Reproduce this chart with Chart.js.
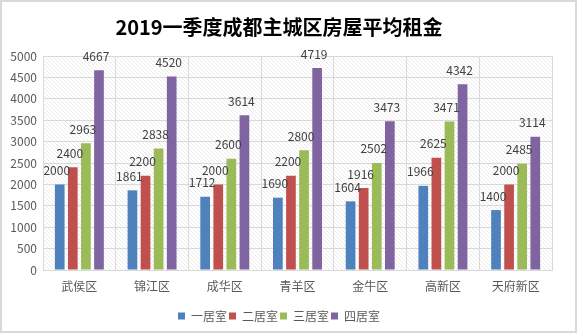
<!DOCTYPE html>
<html><head><meta charset="utf-8">
<script src="https://cdn.jsdelivr.net/npm/chart.js@4/dist/chart.umd.min.js"></script>
<style>html,body{margin:0;padding:0;background:#fff}#wrap{width:577px;height:333px;position:relative}</style>
</head><body><div id="wrap"><canvas id="c" width="577" height="333"></canvas></div>
<script>
const categories = ["武侯区","锦江区","成华区","青羊区","金牛区","高新区","天府新区"];
const seriesNames = ["一居室","二居室","三居室","四居室"];
const oneRoom = [2000,1861,1712,1690,1604,1966,1400];
const twoRoom = [2400,2200,2000,2200,1916,2625,2000];
const threeRoom = [2963,2838,2600,2800,2502,3471,2485];
const fourRoom = [4667,4520,3614,4719,3473,4342,3114];
const yTicks = [0,500,1000,1500,2000,2500,3000,3500,4000,4500,5000];
const colors = ["#4F81BD","#C0504D","#9BBB59","#8064A2"];
const FONT = "'Noto Sans CJK SC', 'Noto Sans', sans-serif";

function hatch(){
  const p = document.createElement('canvas'); p.width = 4; p.height = 4;
  const g = p.getContext('2d');
  g.fillStyle = '#fff'; g.fillRect(0,0,4,4);
  g.strokeStyle = '#e2e2e2'; g.lineWidth = 0.7;
  g.beginPath(); g.moveTo(0,0); g.lineTo(4,4); g.moveTo(-1,3); g.lineTo(1,5); g.moveTo(3,-1); g.lineTo(5,1); g.stroke();
  return p;
}
const bgPlugin = {
  id:'bg',
  beforeDraw(chart){
    const ctx = chart.ctx, a = chart.chartArea;
    ctx.save();
    ctx.fillStyle = '#fff'; ctx.fillRect(0,0,chart.width,chart.height);
    ctx.fillStyle = ctx.createPattern(hatch(),'repeat');
    ctx.fillRect(a.left,a.top,a.right-a.left,a.bottom-a.top);
    ctx.strokeStyle = '#d9d9d9'; ctx.lineWidth = 2;
    ctx.strokeRect(1,1,chart.width-2,chart.height-2);
    ctx.restore();
  },
  afterDraw(chart){
    const ctx = chart.ctx, a = chart.chartArea;
    ctx.save(); ctx.strokeStyle='#d9d9d9'; ctx.lineWidth=1;
    ctx.beginPath(); ctx.moveTo(a.right+0.5,a.top); ctx.lineTo(a.right+0.5,a.bottom); ctx.stroke();
    ctx.restore();
  }
};
const labelPlugin = {
  id:'vals',
  afterDatasetsDraw(chart){
    const ctx = chart.ctx;
    ctx.save();
    ctx.font = "12px " + FONT; ctx.fillStyle = '#404040';
    ctx.textAlign='center'; ctx.textBaseline='bottom';
    chart.data.datasets.forEach((ds,i)=>{
      chart.getDatasetMeta(i).data.forEach((bar,j)=>{
        ctx.fillText(String(ds.data[j]), bar.x - 3, bar.y - 8);
      });
    });
    ctx.restore();
  }
};
const data = {
  labels: categories,
  datasets: [oneRoom,twoRoom,threeRoom,fourRoom].map((d,i)=>({
    label: seriesNames[i], data: d, backgroundColor: colors[i],
    categoryPercentage: 0.72, barPercentage: 0.74
  }))
};
new Chart(document.getElementById('c'),{
  type:'bar', data,
  plugins:[bgPlugin,labelPlugin],
  options:{
    responsive:false, animation:false,
    layout:{padding:{left:6,right:25,top:0,bottom:1}},
    plugins:{
      title:{display:true,text:"2019一季度成都主城区房屋平均租金",color:'#000',font:{family:FONT,size:20,weight:'bold'},padding:{top:15,bottom:17}},
      legend:{position:'bottom',labels:{boxWidth:7,boxHeight:7,color:'#595959',font:{family:FONT,size:12},padding:2}},
      tooltip:{enabled:false}
    },
    scales:{
      x:{grid:{color:'#d9d9d9',offset:true,drawTicks:false},border:{color:'#d9d9d9'},
         afterFit(s){s.height=38;},
         ticks:{color:'#595959',font:{family:FONT,size:12},padding:9}},
      y:{min:0,max:5000,afterBuildTicks(s){s.ticks = yTicks.map(v=>({value:v}));},
         afterFit(s){s.width=37;},
         grid:{color:'#d9d9d9',drawTicks:false},border:{color:'#d9d9d9'},
         ticks:{color:'#595959',font:{family:FONT,size:12},padding:6,callback:v=>String(v)}}
    }
  }
});
</script></body></html>
